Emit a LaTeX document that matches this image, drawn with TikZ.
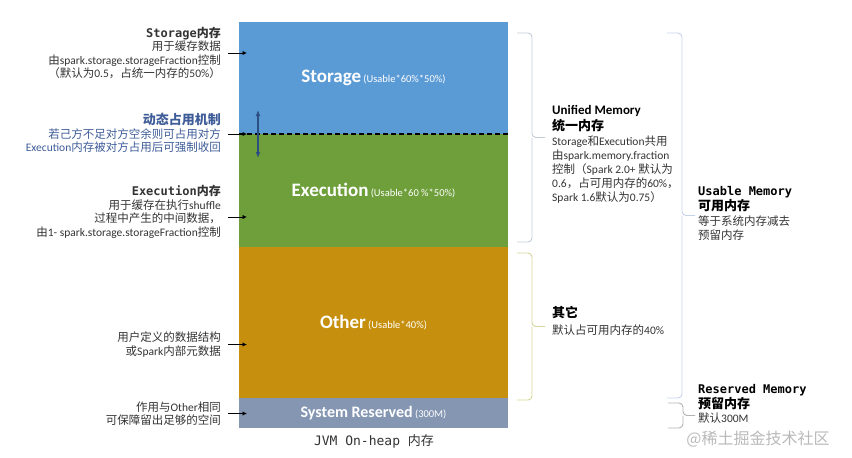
\documentclass[tikz,border=0pt]{standalone}
\usepackage{fontspec}
\setmainfont{Carlito}
\setmonofont{DejaVu Sans Mono}
\newfontfamily\zhfont{Noto Sans CJK SC}
\newcommand\zh[1]{{\zhfont #1}}
\usetikzlibrary{arrows.meta, calc}

\definecolor{storeblue}{HTML}{5B9BD5}
\definecolor{execgreen}{HTML}{6E9F3B}
\definecolor{othergold}{HTML}{C6900E}
\definecolor{sysgray}{HTML}{8496B2}
\definecolor{dynblue}{HTML}{3E5C98}
\definecolor{arrowblue}{HTML}{2B4F83}
\definecolor{bracegray}{HTML}{C3CDD8}
\definecolor{braceolive}{HTML}{D6D69A}
\definecolor{braceblue}{HTML}{C5D3E8}

\newcommand\bigname{\fontsize{19}{19}\selectfont\bfseries}
\newcommand\tinyname{\fontsize{10.5}{10.5}\selectfont}
\newcommand\monotitle{\fontsize{12}{15}\selectfont\ttfamily\bfseries}
\newcommand\infotitle{\fontsize{13}{16}\selectfont\bfseries}

\begin{document}
\begin{tikzpicture}[x=1pt, y=-1pt,
  block/.style={minimum width=269pt, minimum height=#1, inner sep=0pt, outer sep=0pt, text=white},
  note/.style={align=right, anchor=east, inner sep=0pt, text=black!80, font=\fontsize{11.5}{13.5}\selectfont},
  info/.style={align=left, anchor=north west, inner sep=0pt, text=black!80, font=\fontsize{11.5}{14}\selectfont},
  pointer/.style={-{Latex[length=4.5pt,width=4.5pt]}, line width=1pt},
  brace/.style={line width=0.9pt, rounded corners=4pt}]

  \useasboundingbox (0,0) rectangle (852,458);

  % the heap column
  \node[block=112pt, fill=storeblue] (storage) at (373.5,78)
    {{\bigname Storage} {\tinyname (Usable*60\%*50\%)}};
  \node[block=113pt, fill=execgreen] (execution) at (373.5,190.5)
    {{\bigname Execution} {\tinyname (Usable*60 \%*50\%)}};
  \node[block=151pt, fill=othergold] (other) at (373.5,322.5)
    {{\bigname Other} {\tinyname (Usable*40\%)}};
  \node[block=30pt, fill=sysgray] (sysres) at (373.5,413)
    {{\fontsize{16}{16}\selectfont\bfseries System Reserved} {\tinyname (300M)}};
  \node[font=\ttfamily\fontsize{13}{13}\selectfont, text=black!80] (caption) at (374,441)
    {JVM On-heap \zh{内存}};

  \draw[line width=1.4pt, dash pattern=on 5pt off 3pt] (storage.south west) -- (storage.south east);
  \coordinate (shareup) at (258,110);
  \coordinate (sharedn) at (258,158);
  \draw[arrowblue, line width=1.4pt, {Latex[length=6pt,width=5pt]}-{Latex[length=6pt,width=5pt]}] (shareup) -- (sharedn);

  % left notes
  \node[note] (storagenote) at (221,53)
    {{\monotitle Storage\zh{内存}}\\
     \zh{用于缓存数据}\\
     \zh{由}spark.storage.storageFraction\zh{控制}\\
     \zh{（默认为}0.5\zh{，占统一内存的}50\%\zh{）}};
  \node[note, text=dynblue] (dynnote) at (221,133)
    {{\infotitle\zh{动态占用机制}}\\
     \zh{若己方不足对方空余则可占用对方}\\
     Execution\zh{内存被对方占用后可强制收回}};
  \node[note] (execnote) at (221,212)
    {{\monotitle Execution\zh{内存}}\\
     \zh{用于缓存在执行}shuffle\\
     \zh{过程中产生的中间数据，}\\
     \zh{由}1- spark.storage.storageFraction\zh{控制}};
  \node[note] (othernote) at (221,344.5)
    {\zh{用户定义的数据结构}\\
     \zh{或}Spark\zh{内部元数据}};
  \node[note] (resnote) at (221,413.5)
    {\zh{作用与}Other\zh{相同}\\
     \zh{可保障留出足够的空间}};

  \draw[pointer] ($(storagenote.east)+(7,0)$) -- ($(storagenote.east -| storage.west)+(8,0)$);
  \draw[pointer] ($(dynnote.east)+(7,1)$) -- ($(dynnote.east -| storage.west)+(8,1)$);
  \draw[pointer] ($(execnote.east)+(7,5)$) -- ($(execnote.east -| execution.west)+(8,5)$);
  \draw[pointer] ($(othernote.east)+(7,0)$) -- ($(othernote.east -| other.west)+(8,0)$);
  \draw[pointer] ($(resnote.east)+(7,0)$) -- ($(resnote.east -| sysres.west)+(8,0)$);

  % braces
  \draw[brace, bracegray] (517,33) -- (532,33) -- (532,137.5) -- (545,137.5)
    (532,137.5) -- (532,242) -- (517,242);
  \draw[brace, braceolive] (517,253) -- (532,253) -- (532,326.5) -- (545,326.5)
    (532,326.5) -- (532,400) -- (517,400);
  \draw[brace, braceblue] (667,33) -- (682,33) -- (682,215.5) -- (695,215.5)
    (682,215.5) -- (682,398) -- (667,398);
  \draw[brace, gray!60] (668,403) -- (683,403) -- (683,415.5) -- (695,415.5)
    (683,415.5) -- (683,428) -- (668,428);

  % right notes
  \node[info] (unifiedinfo) at (552,105)
    {{\infotitle\color{black} Unified Memory}\\[2pt]
     {\infotitle\color{black}\zh{统一内存}}\\[1pt]
     Storage\zh{和}Execution\zh{共用}\\
     \zh{由}spark.memory.fraction\\
     \zh{控制（}Spark 2.0+ \zh{默认为}\\
     0.6\zh{，占可用内存的}60\%\zh{，}\\
     Spark 1.6\zh{默认为}0.75\zh{）}};
  \node[info] (otherinfo) at (552,306)
    {{\infotitle\color{black}\zh{其它}}\\[3pt]
     \zh{默认占可用内存的}40\%};
  \node[info] (usableinfo) at (698,186)
    {{\monotitle\color{black} Usable Memory}\\[1pt]
     {\infotitle\color{black}\zh{可用内存}}\\[1pt]
     \zh{等于系统内存减去}\\
     \zh{预留内存}};
  \node[info] (resinfo) at (698,384)
    {{\monotitle\color{black} Reserved Memory}\\[1pt]
     {\infotitle\color{black}\zh{预留内存}}\\
     \zh{默认}300M};

  \node[text=gray!55, font=\zhfont\fontsize{16}{16}\selectfont] (mark) at (758,439)
    {@稀土掘金技术社区};

\end{tikzpicture}
\end{document}
